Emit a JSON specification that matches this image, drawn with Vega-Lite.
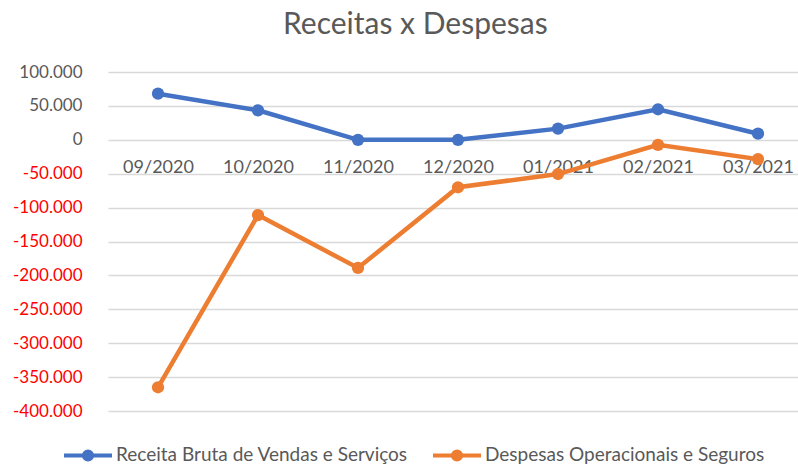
{
  "$schema": "https://vega.github.io/schema/vega-lite/v6.json",
  "width": 690,
  "height": 339,
  "autosize": {"type": "none"},
  "padding": {"left": 108, "top": 72, "right": 0, "bottom": 55},
  "background": "white",
  "title": {
    "text": "Receitas x Despesas",
    "anchor": "start",
    "frame": "group",
    "dx": 175,
    "offset": 23,
    "font": "Lato",
    "fontSize": 30,
    "fontWeight": "normal",
    "color": "#595959"
  },
  "config": {
    "view": {"stroke": null},
    "locale": {
      "number": {"decimal": ",", "thousands": ".", "grouping": [3], "currency": ["", ""], "minus": "-"}
    },
    "font": "Lato"
  },
  "data": {
    "values": [
      {"mes": "09/2020", "serie": "Receita Bruta de Vendas e Serviços", "valor": 68000},
      {"mes": "10/2020", "serie": "Receita Bruta de Vendas e Serviços", "valor": 43500},
      {"mes": "11/2020", "serie": "Receita Bruta de Vendas e Serviços", "valor": 0},
      {"mes": "12/2020", "serie": "Receita Bruta de Vendas e Serviços", "valor": 0},
      {"mes": "01/2021", "serie": "Receita Bruta de Vendas e Serviços", "valor": 16500},
      {"mes": "02/2021", "serie": "Receita Bruta de Vendas e Serviços", "valor": 45000},
      {"mes": "03/2021", "serie": "Receita Bruta de Vendas e Serviços", "valor": 9000},
      {"mes": "09/2020", "serie": "Despesas Operacionais e Seguros", "valor": -365000},
      {"mes": "10/2020", "serie": "Despesas Operacionais e Seguros", "valor": -111000},
      {"mes": "11/2020", "serie": "Despesas Operacionais e Seguros", "valor": -189000},
      {"mes": "12/2020", "serie": "Despesas Operacionais e Seguros", "valor": -70000},
      {"mes": "01/2021", "serie": "Despesas Operacionais e Seguros", "valor": -50500},
      {"mes": "02/2021", "serie": "Despesas Operacionais e Seguros", "valor": -7500},
      {"mes": "03/2021", "serie": "Despesas Operacionais e Seguros", "valor": -28500}
    ]
  },
  "mark": {"type": "line", "strokeWidth": 4.5, "point": {"size": 150, "filled": true, "opacity": 1}},
  "encoding": {
    "x": {
      "field": "mes",
      "type": "ordinal",
      "sort": null,
      "scale": {"type": "point", "padding": 0.45, "align": 0.5556},
      "axis": {
        "title": null,
        "domain": false,
        "ticks": false,
        "grid": false,
        "labelAngle": 0,
        "offset": -271,
        "labelPadding": 18,
        "labelFont": "Lato",
        "labelFontSize": 18,
        "labelColor": "#595959"
      }
    },
    "y": {
      "field": "valor",
      "type": "quantitative",
      "scale": {"domain": [-400000, 100000], "nice": false, "zero": false},
      "axis": {
        "title": null,
        "values": [-400000, -350000, -300000, -250000, -200000, -150000, -100000, -50000, 0, 50000, 100000],
        "format": ",d",
        "domain": false,
        "ticks": false,
        "grid": true,
        "gridColor": "#D9D9D9",
        "gridWidth": 1.3,
        "labelPadding": 26,
        "labelFont": "Lato",
        "labelFontSize": 17,
        "labelColor": {"condition": {"test": "datum.value < 0", "value": "#FF0000"}, "value": "#595959"}
      }
    },
    "color": {
      "field": "serie",
      "type": "nominal",
      "sort": ["Receita Bruta de Vendas e Serviços", "Despesas Operacionais e Seguros"],
      "scale": {"domain": ["Receita Bruta de Vendas e Serviços", "Despesas Operacionais e Seguros"], "range": ["#4472C4", "#ED7D31"]},
      "legend": {
        "title": null,
        "orient": "none",
        "direction": "horizontal",
        "legendX": -46,
        "legendY": 357,
        "symbolType": "M-1,0L1,0M0.17,0A0.17,0.17,0,1,1,-0.17,0A0.17,0.17,0,1,1,0.17,0Z",
        "symbolSize": 2304,
        "symbolStrokeWidth": 4,
        "symbolOpacity": 1,
        "labelFont": "Lato",
        "labelFontSize": 19,
        "labelColor": "#595959",
        "labelOffset": 2,
        "columnPadding": 17,
        "labelLimit": 400
      }
    }
  }
}
